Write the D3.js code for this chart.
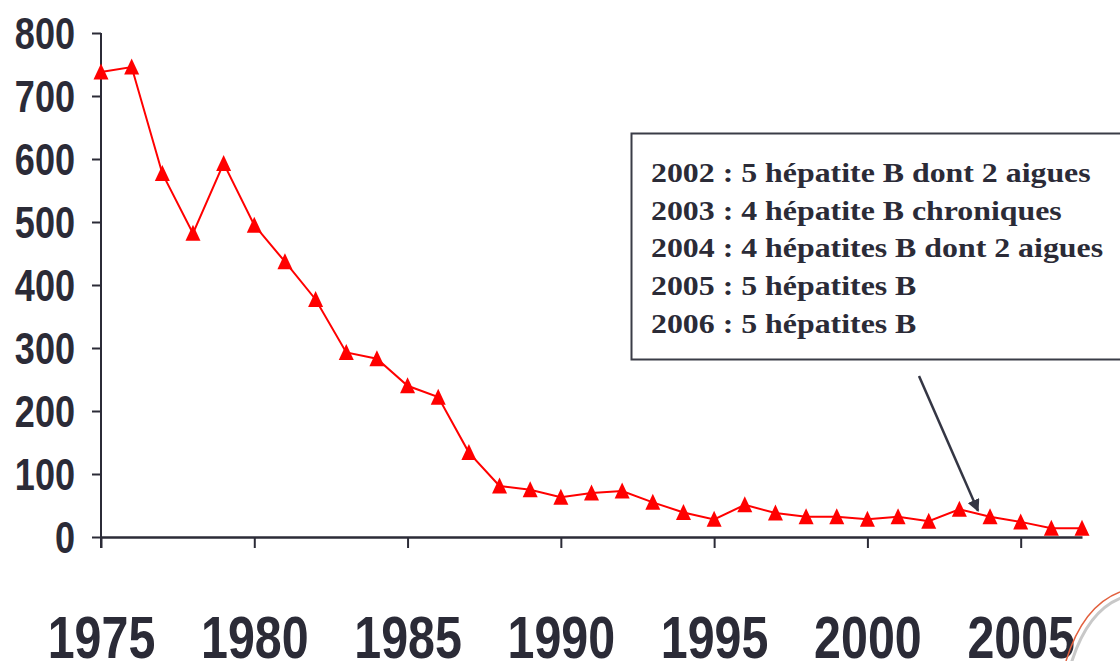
<!DOCTYPE html>
<html>
<head>
<meta charset="utf-8">
<script src="https://cdn.jsdelivr.net/npm/d3@7"></script>
<style>
  html, body { margin: 0; padding: 0; background: #ffffff; }
  svg { display: block; }
</style>
</head>
<body>
<svg id="chart" width="1120" height="661"></svg>
<script>
// ---- data ----
const years = [1975,1976,1977,1978,1979,1980,1981,1982,1983,1984,1985,1986,1987,1988,1989,1990,
               1991,1992,1993,1994,1995,1996,1997,1998,1999,2000,2001,2002,2003,2004,2005,2006,2007];
const cases = [738,746,577,482,593,495,437,377,293,283,240,222,134,81,75,63,
               70,73,55,39,28,51,38,32,32,28,32,25,44,32,24,14,14];
const yTicks = [0,100,200,300,400,500,600,700,800];
const xTicks = [1975,1980,1985,1990,1995,2000,2005];
const noteLines = [
  "2002 : 5 hépatite B dont 2 aigues",
  "2003 : 4 hépatite B chroniques",
  "2004 : 4 hépatites B dont 2 aigues",
  "2005 : 5 hépatites B",
  "2006 : 5 hépatites B"
];
const arrowTargetYear = 2004;
const arrowTargetValue = 32;

// ---- drawing ----
const svg = d3.select("#chart");
const ink = "#2b2b37";

const x = d3.scaleLinear().domain([1975, 2007]).range([101, 1082]);
const y = d3.scaleLinear().domain([0, 800]).range([537, 33]);

// Y axis
const yAxis = svg.append("g")
  .attr("transform", `translate(${x(1975)},0)`)
  .call(d3.axisLeft(y).tickValues(yTicks).tickSize(9).tickSizeOuter(0).tickFormat(d3.format("d")));
yAxis.select(".domain").attr("stroke", ink).attr("stroke-width", 2)
  .attr("d", `M0,${y(800)}V548`);
yAxis.selectAll(".tick line").attr("stroke", ink).attr("stroke-width", 2);
yAxis.selectAll(".tick text")
  .attr("x", null).attr("dy", null)
  .attr("transform", "translate(-26,15.5) scale(0.82,1)")
  .attr("text-anchor", "end")
  .attr("fill", ink)
  .style("font-family", "'Liberation Sans', Arial, sans-serif")
  .style("font-weight", "bold")
  .style("font-size", "44px");

// X axis
const xAxis = svg.append("g")
  .attr("transform", `translate(0,${y(0)})`)
  .call(d3.axisBottom(x).tickValues(xTicks).tickSize(11).tickSizeOuter(0).tickFormat(d3.format("d")));
xAxis.select(".domain").attr("stroke", ink).attr("stroke-width", 2.5);
xAxis.selectAll(".tick line").attr("stroke", ink).attr("stroke-width", 2);
xAxis.selectAll(".tick text")
  .attr("y", null).attr("dy", null)
  .attr("transform", "translate(0,121) scale(0.82,1)")
  .attr("text-anchor", "middle")
  .attr("fill", ink)
  .style("font-family", "'Liberation Sans', Arial, sans-serif")
  .style("font-weight", "bold")
  .style("font-size", "59px");

// Series line
const pts = years.map((yr, i) => [yr, cases[i]]);
svg.append("path")
  .datum(pts)
  .attr("fill", "none")
  .attr("stroke", "#ff0000")
  .attr("stroke-width", 2)
  .attr("d", d3.line().x(d => x(d[0])).y(d => y(d[1])));

// Triangle markers
const tri = { draw(ctx) { ctx.moveTo(0, -8.5); ctx.lineTo(7.5, 7.5); ctx.lineTo(-7.5, 7.5); ctx.closePath(); } };
svg.append("g").selectAll("path")
  .data(pts)
  .join("path")
  .attr("transform", d => `translate(${x(d[0])},${y(d[1])})`)
  .attr("d", d3.symbol().type(tri)())
  .attr("fill", "#ff0000");

// Annotation box
svg.append("rect")
  .attr("x", 631.5).attr("y", 133.5)
  .attr("width", 500).attr("height", 226)
  .attr("fill", "#ffffff")
  .attr("stroke", "#3a3c47").attr("stroke-width", 2);

svg.append("g").selectAll("text")
  .data(noteLines)
  .join("text")
  .attr("transform", (d, i) => `translate(651,${182 + i * 37.7}) scale(1.18,1)`)
  .attr("fill", ink)
  .style("font-family", "'Liberation Serif', 'Times New Roman', serif")
  .style("font-weight", "bold")
  .style("font-size", "27px")
  .text(d => d);

// Arrow
svg.append("defs").append("marker")
  .attr("id", "arrowhead")
  .attr("viewBox", "0 0 10 10")
  .attr("refX", 9).attr("refY", 5)
  .attr("markerWidth", 5).attr("markerHeight", 5)
  .attr("orient", "auto")
  .append("path").attr("d", "M0,0 L10,5 L0,10 Z").attr("fill", "#343644");

const ax = x(arrowTargetYear) - 12, ay = y(arrowTargetValue) - 6;
svg.append("line")
  .attr("x1", 919).attr("y1", 376)
  .attr("x2", ax).attr("y2", ay)
  .attr("stroke", "#343644").attr("stroke-width", 2.5)
  .attr("marker-end", "url(#arrowhead)");

// Corner decoration (slide ornament)
svg.append("path")
  .attr("d", "M1069,661 Q1086,606 1122,594")
  .attr("fill", "none").attr("stroke", "#c8c8c8").attr("stroke-width", 3)
  .attr("transform", "translate(2,3)");
svg.append("path")
  .attr("d", "M1066,661 Q1083,606 1120,592")
  .attr("fill", "none").attr("stroke", "#e2603e").attr("stroke-width", 1.5);
</script>
</body>
</html>
